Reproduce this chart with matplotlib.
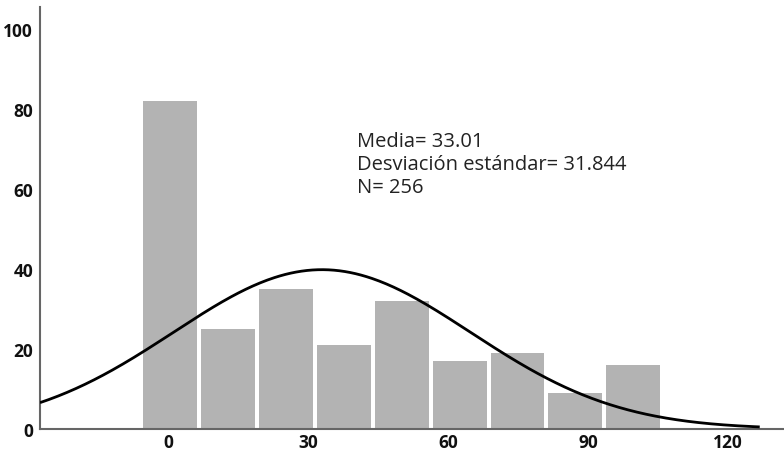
import numpy as np
import matplotlib
matplotlib.use("Agg")
import matplotlib.pyplot as plt

# Data
bin_centers = [0.4, 12.8, 25.3, 37.7, 50.1, 62.5, 74.9, 87.3, 99.7]
counts = [82, 25, 35, 21, 32, 17, 19, 9, 16]
bin_width = 12.42
mean = 33.01
std = 31.844
n = 256
xticks = [0, 30, 60, 90, 120]
yticks = [0, 20, 40, 60, 80, 100]
stats_lines = ["Media= 33.01", "Desviación estándar= 31.844", "N= 256"]

fig = plt.figure(figsize=(7.84, 4.52), dpi=100)
ax = fig.add_axes([40/784, 22/452, 744/784, 422/452])

ax.bar(bin_centers, counts, width=bin_width * 0.93, color="#b3b3b3",
       edgecolor="none", zorder=2)

xs = np.linspace(-27.4, 126.8, 400)
ys = n * bin_width / (std * np.sqrt(2 * np.pi)) * np.exp(-0.5 * ((xs - mean) / std) ** 2)
ax.plot(xs, ys, color="black", lw=2.0, zorder=3, solid_capstyle="butt")

ax.set_xlim(-27.4, 132)
ax.set_ylim(0, 105.5)
ax.set_xticks(xticks)
ax.set_yticks(yticks)
ax.tick_params(length=0)
for lab in ax.get_xticklabels() + ax.get_yticklabels():
    lab.set_fontfamily("Open Sans")
    lab.set_fontweight("bold")
    lab.set_fontsize(12.5)
    lab.set_color("#111111")
ax.tick_params(axis="x", pad=3)
ax.tick_params(axis="y", pad=5)

for s in ["top", "right"]:
    ax.spines[s].set_visible(False)
for s in ["left", "bottom"]:
    ax.spines[s].set_color("#666666")
    ax.spines[s].set_linewidth(1.5)

baselines = [70.75, 65.0, 59.25]
for txt, yb in zip(stats_lines, baselines):
    ax.text(40.5, yb, txt, fontsize=14.5, family="Open Sans", color="#222222",
            va="baseline", ha="left", zorder=4)

fig.savefig("out.png", dpi=100)
